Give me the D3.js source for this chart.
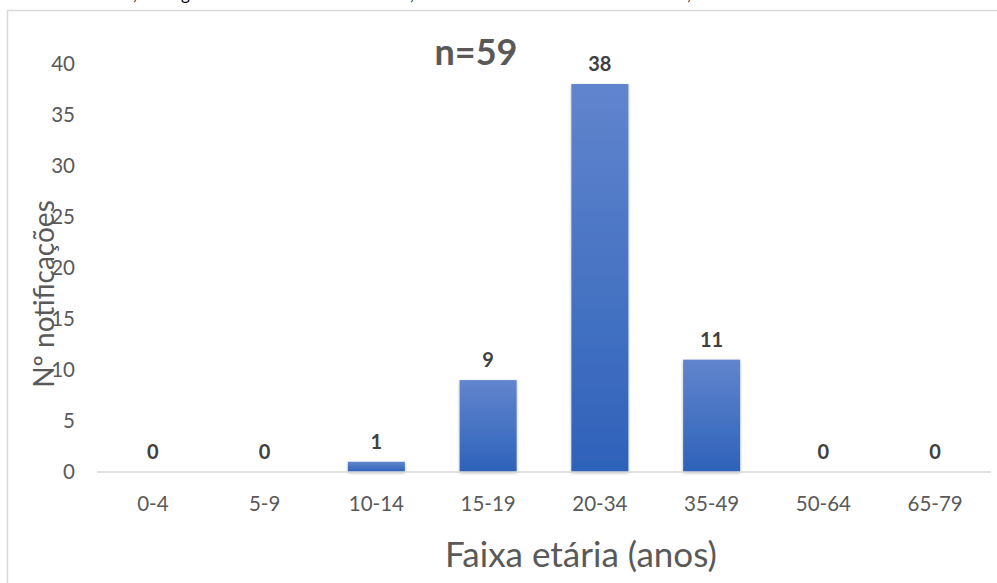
<!DOCTYPE html>
<html>
<head>
    <meta charset="utf-8">
    <title>Faixa etária</title>
    <script src="https://d3js.org/d3.v7.min.js"></script>
    <style>
        body { margin: 0; background: #fff; }
        text { font-family: Lato, "Open Sans", sans-serif; }
    </style>
</head>
<body>
    <script>
        var faixas = ["0-4", "5-9", "10-14", "15-19", "20-34", "35-49", "50-64", "65-79"];
        var notificacoes = [0, 0, 1, 9, 38, 11, 0, 0];
        var yTicks = [0, 5, 10, 15, 20, 25, 30, 35, 40];

        var width = 997;
        var height = 583;

        var svg = d3.select("body").append("svg")
            .attr("width", width)
            .attr("height", height);

        var defs = svg.append("defs");
        var grad = defs.append("linearGradient")
            .attr("id", "barra")
            .attr("x1", 0).attr("y1", 0).attr("x2", 0).attr("y2", 1);
        grad.append("stop").attr("offset", "0%").attr("stop-color", "#6185CD");
        grad.append("stop").attr("offset", "100%").attr("stop-color", "#2E62BA");

        var sombra = defs.append("filter")
            .attr("id", "sombra")
            .attr("x", "-20%").attr("y", "-20%").attr("width", "140%").attr("height", "140%");
        sombra.append("feDropShadow")
            .attr("dx", 0).attr("dy", 1)
            .attr("stdDeviation", 1.5)
            .attr("flood-color", "#000")
            .attr("flood-opacity", 0.3);

        // pedaço da legenda cortada no topo
        svg.selectAll("text.corte")
            .data([[133, ","], [181, "g"], [410, ","], [687, ","]])
            .enter()
            .append("text")
            .attr("class", "corte")
            .attr("x", function(d) { return d[0]; })
            .attr("y", 0)
            .style("font-size", "17px")
            .style("fill", "#000")
            .text(function(d) { return d[1]; });

        // borda da área do gráfico
        svg.append("rect")
            .attr("x", 7.5).attr("y", 10.5)
            .attr("width", 1000).attr("height", 600)
            .attr("fill", "none")
            .attr("stroke", "#D9D9D9")
            .attr("stroke-width", 1.5);

        var x = d3.scaleBand()
            .domain(faixas)
            .range([97, 991])
            .paddingInner(0.49)
            .paddingOuter(0.245);

        var y = d3.scaleLinear()
            .domain([0, 40])
            .range([472, 63.6]);

        // rótulos do eixo y
        svg.selectAll("text.ytick")
            .data(yTicks)
            .enter()
            .append("text")
            .attr("class", "ytick")
            .attr("x", 75)
            .attr("y", function(d) { return y(d); })
            .attr("dy", "0.35em")
            .attr("text-anchor", "end")
            .style("font-size", "20.5px")
            .style("fill", "#595959")
            .text(function(d) { return d; });

        // barras
        svg.selectAll("rect.barra")
            .data(notificacoes)
            .enter()
            .append("rect")
            .attr("class", "barra")
            .attr("x", function(d, i) { return x(faixas[i]); })
            .attr("y", function(d) { return y(d); })
            .attr("width", x.bandwidth())
            .attr("height", function(d) { return y(0) - y(d); })
            .attr("fill", "url(#barra)")
            .attr("filter", "url(#sombra)");

        // linha do eixo x
        svg.append("line")
            .attr("x1", 97).attr("x2", 991)
            .attr("y1", y(0)).attr("y2", y(0))
            .attr("stroke", "#D9D9D9")
            .attr("stroke-width", 1.5);

        // rótulos das categorias
        svg.selectAll("text.xtick")
            .data(faixas)
            .enter()
            .append("text")
            .attr("class", "xtick")
            .attr("x", function(d) { return x(d) + x.bandwidth() / 2; })
            .attr("y", 511)
            .attr("text-anchor", "middle")
            .style("font-size", "20.5px")
            .style("fill", "#595959")
            .text(function(d) { return d; });

        // valores sobre as barras
        svg.selectAll("text.valor")
            .data(notificacoes)
            .enter()
            .append("text")
            .attr("class", "valor")
            .attr("x", function(d, i) { return x(faixas[i]) + x.bandwidth() / 2; })
            .attr("y", function(d) { return y(d) - 13; })
            .attr("text-anchor", "middle")
            .style("font-size", "20px")
            .style("font-weight", "bold")
            .style("fill", "#404040")
            .text(function(d) { return d; });

        // título
        svg.append("text")
            .attr("x", 476)
            .attr("y", 65)
            .attr("text-anchor", "middle")
            .style("font-size", "36px")
            .style("font-weight", "bold")
            .style("fill", "#595959")
            .text("n=59");

        // títulos dos eixos
        svg.append("text")
            .attr("x", 581)
            .attr("y", 567)
            .attr("text-anchor", "middle")
            .style("font-size", "35px")
            .style("fill", "#595959")
            .text("Faixa etária (anos)");

        svg.append("text")
            .attr("transform", "translate(54,294) rotate(-90)")
            .attr("text-anchor", "middle")
            .style("font-size", "28px")
            .style("fill", "#595959")
            .text("Nº notificações");
    </script>
</body>
</html>
